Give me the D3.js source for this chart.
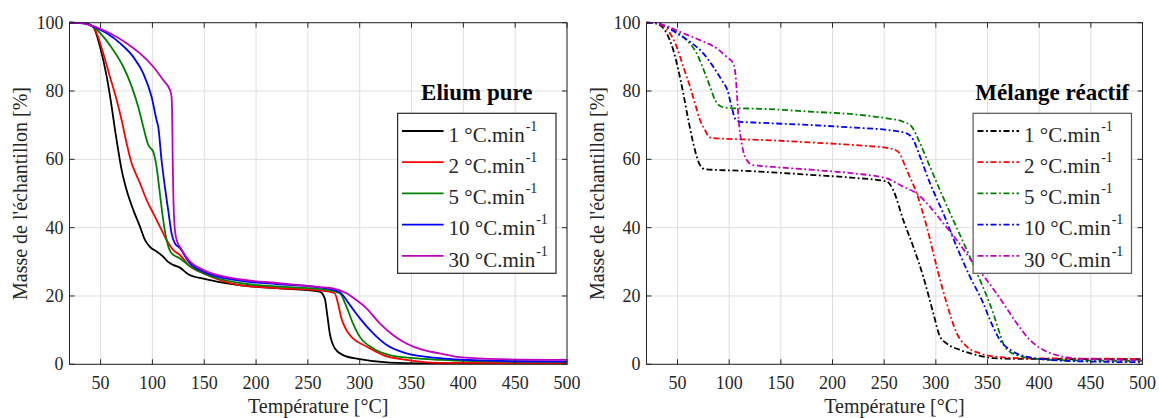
<!DOCTYPE html>
<html>
<head>
<meta charset="utf-8">
<script src="https://cdn.jsdelivr.net/npm/d3@7"></script>
<style>
  html, body { margin: 0; padding: 0; background: #fff; }
  svg { display: block; font-family: "Liberation Serif", "Times New Roman", serif; }
</style>
</head>
<body>
<svg id="chart" width="1159" height="418"></svg>
<script>
// ── data: [température °C, masse %] ──
const eliumRate1 = [[20,100],[35,99.9],[42.9,98.8],[49.4,93],[55.9,84.2],[60.7,75.4],[63.9,68.6],[67,62.7],[70.3,56.9],[75.1,51],[81.5,45.2],[88,40.3],[92.8,36.4],[97.6,34.4],[104,33],[110.4,31.5],[115.2,30],[120,29.1],[126.5,28.3],[135,26.3],[150,25],[184,23.2],[220,22.3],[261.4,21.3],[266.3,19.3],[268.5,14.9],[271.1,9.1],[275.9,4.7],[283.9,2.7],[300,1.5],[329,0.5],[360,0.3],[500,0.2]];
const eliumRate2 = [[20,100],[35,99.8],[42,99],[46.2,96.9],[52.6,91],[59,84.2],[65.5,77.4],[70.3,71.5],[75.1,64.7],[80,58.8],[83.1,56.4],[88,53],[94.4,48.1],[100.8,44.2],[107.2,40.3],[113.7,36.4],[120,33.5],[126.5,32],[135,29],[150,26.5],[184,23.2],[220,22.3],[261.4,21.6],[275.9,20.8],[279,17.9],[282.3,13.5],[287.2,10],[293.5,7.6],[306.5,5.2],[322.5,2.7],[345,1.3],[377,0.4],[500,0.3]];
const eliumRate5 = [[20,100],[35,99.8],[43,98.8],[52.6,95.9],[62.2,92],[71.9,87.1],[80,81.3],[86.3,75.4],[91.1,69.6],[96,64.2],[100.8,62.2],[104,57.8],[107.2,50],[110.4,42.2],[113.7,36.4],[118.5,32.5],[126.5,31],[135,29],[150,26.5],[184,23.8],[220,22.8],[261.4,22],[280.7,20.8],[287.2,16.9],[293.5,12],[300,8.1],[312.8,4.7],[328.9,2.7],[351.4,1.8],[377,1.3],[400,1.0],[500,0.7]];
const eliumRate10 = [[20,100],[35,99.8],[43,98.8],[55.9,96.9],[68.7,94],[81.5,90],[91.1,85.2],[99.2,78.3],[104,71.5],[105.6,69.6],[108.8,59.8],[112,52],[115.2,45.2],[118.5,38.3],[121.7,35.4],[126.5,34],[135,30],[150,27],[184,24.5],[220,23.5],[261.4,22.5],[280.7,21.1],[290.4,17.4],[300,13.5],[312.8,9.1],[325.7,5.7],[345,3.2],[377,1.8],[410,1.2],[450,0.9],[500,0.8]];
const eliumRate30 = [[20,100],[30,99.9],[39.8,99.3],[59,96.9],[75.1,94],[88,91],[100.8,87.1],[110.4,83.2],[116.9,80.3],[118.5,78.3],[119.1,71.5],[119.5,61.8],[120,52],[120.7,44.2],[121.7,39.3],[123.9,35.9],[126.5,34.4],[135,30.5],[150,27.5],[184,24.9],[220,23.8],[261.4,22.6],[274.3,22.2],[287.2,20.8],[296.8,18.8],[306.5,16.4],[319.3,12],[332.1,8.6],[345,6.1],[361,4.2],[377,3.2],[399,2.0],[435,1.5],[500,1.3]];

const melRate1 = [[20,100],[30,99.8],[33.1,99.3],[39.5,96.9],[45.9,92],[50.8,86.2],[55.6,79.3],[60.5,71.5],[65.3,64.7],[68.6,60.8],[71.8,58.3],[76.6,57.1],[87.9,56.9],[110.5,56.7],[129.8,56.4],[182,55.4],[220,54.6],[252.5,53.5],[258.8,51],[268.5,42.2],[278.2,34.4],[287.9,25.6],[297.6,14.9],[304,8.1],[310.5,6.1],[323.4,4.2],[339.6,2.7],[355.6,1.8],[380,1.6],[500,1.5]];
const melRate2 = [[20,100],[30,99.8],[36,99],[42.7,96.9],[49.2,93],[55.6,87.1],[62.1,81.3],[66.9,76.4],[71.8,71.5],[76.6,68.6],[79.8,66.8],[84.6,66.2],[97.6,66],[129.8,65.7],[182,64.9],[220,64.2],[255.6,63.2],[263.7,62.2],[271.8,56.9],[281.5,50],[291.2,40.3],[300.8,28.6],[310.5,17.9],[320.2,9.1],[329.9,5.2],[342.7,3.2],[358.9,2.2],[380,1.8],[500,1.6]];
const melRate5 = [[20,100],[30,99.8],[35,99.4],[45.9,97.9],[58.9,94.9],[68.6,91],[76.6,85.2],[81.5,81.3],[86.3,77.4],[92.8,75.4],[100.8,75],[129.8,74.8],[182,73.9],[220,73.2],[252.5,72],[268.5,71],[276.6,69.6],[284.7,64.7],[294.4,57.8],[304,51],[316.9,42.2],[329.9,33.5],[342.7,24.7],[355.6,14.9],[362.1,8.8],[367,5],[378.3,2.7],[397.7,1.6],[420,1.2],[500,1.0]];
const melRate10 = [[20,100],[30,99.8],[35,99.4],[49.2,96.9],[62.1,94.4],[75,91],[84.6,87.1],[92.8,83.2],[98.2,80.3],[102.4,75.4],[105.6,72],[110.5,71],[129.8,70.7],[182,70],[220,69.3],[252.5,68.6],[271.8,67.6],[278.2,65.7],[284.7,60.8],[294.4,53],[307.2,44.2],[320.2,34.4],[333.1,25.6],[345.9,17.9],[352.4,13],[362.1,7.1],[375,3.7],[391.1,2],[410.5,1.3],[450,0.8],[500,0.6]];
const melRate30 = [[20,100],[28,99.9],[36.3,99.3],[55.6,96.9],[71.8,94.9],[87.9,92.5],[97.6,90],[104,88.1],[106.6,83.2],[107.9,77.4],[109.2,71.5],[112.1,64.7],[117,59.8],[123.4,58.3],[129.8,58.1],[182,56.9],[220,55.9],[252.5,54.4],[268.5,52],[281.5,50],[294.4,46.1],[307.2,41.3],[320.2,36.4],[336.3,29.6],[349.2,24.7],[365.3,17.9],[378.3,12],[391.1,7.1],[404,4.2],[417,2.7],[429.9,1.9],[449.3,1.5],[500,1.2]];

const rateLabels = ['1', '2', '5', '10', '30'];
const seriesColors = ['#000000', '#ff0000', '#008000', '#0000ff', '#c000c0'];
const xTicks = [50, 100, 150, 200, 250, 300, 350, 400, 450, 500];
const yTicks = [0, 20, 40, 60, 80, 100];

// ── layout ──
const plotTop = 22.7, plotBottom = 364.3;
const panels = [
  { x0: 69.5,  x1: 567,    title: 'Elium pure',      series: [eliumRate1, eliumRate2, eliumRate5, eliumRate10, eliumRate30], dash: null,            box: '#262626' },
  { x0: 646.5, x1: 1142.5, title: 'Mélange réactif', series: [melRate1, melRate2, melRate5, melRate10, melRate30],           dash: '6,2.6,1.8,2.6', box: '#555555' }
];

const axisColor = '#262626';
const gridColor = '#dfdfdf';
const svg = d3.select('#chart');

panels.forEach((p, pi) => {
  const x = d3.scaleLinear().domain([20, 500]).range([p.x0, p.x1]);
  const y = d3.scaleLinear().domain([0, 100]).range([plotBottom, plotTop]);
  const g = svg.append('g');

  // grid
  g.append('g').selectAll('line').data(xTicks).join('line')
    .attr('x1', d => x(d)).attr('x2', d => x(d))
    .attr('y1', plotTop).attr('y2', plotBottom)
    .attr('stroke', gridColor).attr('stroke-width', 1);
  g.append('g').selectAll('line').data(yTicks).join('line')
    .attr('x1', p.x0).attr('x2', p.x1)
    .attr('y1', d => y(d)).attr('y2', d => y(d))
    .attr('stroke', gridColor).attr('stroke-width', 1);

  // curves
  const clipId = 'clip' + pi;
  svg.append('clipPath').attr('id', clipId).append('rect')
    .attr('x', p.x0).attr('y', plotTop - 2).attr('width', p.x1 - p.x0).attr('height', plotBottom - plotTop + 2);

  const line = d3.line().x(d => x(d[0])).y(d => y(d[1])).curve(d3.curveMonotoneX);
  g.append('g').attr('clip-path', `url(#${clipId})`)
    .selectAll('path').data(p.series).join('path')
    .attr('d', line)
    .attr('fill', 'none')
    .attr('stroke', (d, i) => seriesColors[i])
    .attr('stroke-width', 1.8)
    .attr('stroke-linejoin', 'round')
    .attr('stroke-dasharray', p.dash);

  // box + inner ticks on all sides
  g.append('rect')
    .attr('x', p.x0).attr('y', plotTop).attr('width', p.x1 - p.x0).attr('height', plotBottom - plotTop)
    .attr('fill', 'none').attr('stroke', axisColor).attr('stroke-width', 1);
  const tl = 5;
  g.append('g').selectAll('path').data(xTicks).join('path')
    .attr('d', d => `M${x(d)},${plotBottom}v${-tl}M${x(d)},${plotTop}v${tl}`)
    .attr('stroke', axisColor).attr('stroke-width', 1);
  g.append('g').selectAll('path').data(yTicks).join('path')
    .attr('d', d => `M${p.x0},${y(d)}h${tl}M${p.x1},${y(d)}h${-tl}`)
    .attr('stroke', axisColor).attr('stroke-width', 1);

  // tick labels
  g.append('g').selectAll('text').data(xTicks).join('text')
    .attr('x', d => x(d)).attr('y', 389)
    .attr('text-anchor', 'middle').attr('font-size', 18).attr('fill', axisColor)
    .text(d => d);
  g.append('g').selectAll('text').data(yTicks).join('text')
    .attr('x', p.x0 - 6).attr('y', d => y(d)).attr('dy', '0.34em')
    .attr('text-anchor', 'end').attr('font-size', 18).attr('fill', axisColor)
    .text(d => d);

  // axis titles
  g.append('text')
    .attr('x', (p.x0 + p.x1) / 2).attr('y', 413)
    .attr('text-anchor', 'middle').attr('font-size', 20).attr('fill', axisColor)
    .text('Température [°C]');
  g.append('text')
    .attr('transform', `translate(${p.x0 - 42.5},${(plotTop + plotBottom) / 2}) rotate(-90)`)
    .attr('text-anchor', 'middle').attr('font-size', 20).attr('fill', axisColor)
    .text("Masse de l'échantillon [%]");

  // legend
  const lw = 158.4, lx = p.x1 - 11 - lw, ly = 113.3, lh = 160;
  g.append('text')
    .attr('x', lx + lw / 2).attr('y', 100)
    .attr('text-anchor', 'middle').attr('font-size', 23).attr('font-weight', 'bold').attr('fill', '#000')
    .text(p.title);
  g.append('rect')
    .attr('x', lx).attr('y', ly).attr('width', lw).attr('height', lh)
    .attr('fill', '#fff').attr('stroke', p.box).attr('stroke-width', 1.2);
  const rows = g.append('g').selectAll('g').data(rateLabels).join('g')
    .attr('transform', (d, i) => `translate(${lx},${131 + i * 31.2})`);
  rows.append('line')
    .attr('x1', 4.4).attr('x2', 46).attr('y1', 0).attr('y2', 0)
    .attr('stroke', (d, i) => seriesColors[i]).attr('stroke-width', 1.8)
    .attr('stroke-dasharray', p.dash);
  const t = rows.append('text')
    .attr('x', 51).attr('y', 10.8).attr('font-size', 21).attr('fill', axisColor);
  t.append('tspan').text(d => d + ' °C.min');
  t.append('tspan').attr('dx', 1).attr('dy', -11).attr('font-size', 14).text('-1');
});
</script>
</body>
</html>
